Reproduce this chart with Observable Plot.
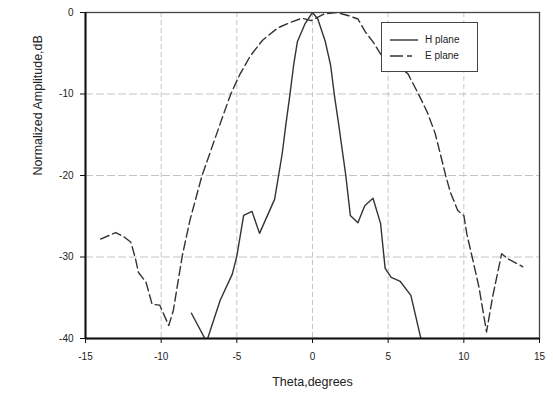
<!DOCTYPE html>
<html>
<head>
<meta charset="utf-8">
<script src="https://cdn.jsdelivr.net/npm/d3@7"></script>
<script src="https://cdn.jsdelivr.net/npm/@observablehq/plot@0.6"></script>
<style>
  html, body { margin: 0; padding: 0; background: #fff; }
  #wrap { position: relative; width: 553px; height: 395px; }
  #legend {
    position: absolute; left: 381px; top: 22px; width: 95px; height: 48px;
    background: #fff; border: 1.5px solid #444;
    font-family: "Liberation Sans", Arial, sans-serif; font-size: 10px; color: #222;
  }
  #legend .row { position: absolute; left: 8px; display: flex; align-items: center; }
  #legend svg { margin-right: 7px; }
</style>
</head>
<body>
<div id="wrap"><div id="legend"></div></div>
<script>
// H plane (solid)
const hTheta = [-8.0, -7.0, -6.1, -5.3, -5.0, -4.55, -4.0, -3.5, -2.5, -2.0, -1.75, -1.5, -1.25, -1.0, -0.5, 0, 0.35, 0.85, 1.2, 1.45, 1.72, 2.2, 2.5, 3.0, 3.45, 4.0, 4.5, 4.8, 5.2, 5.8, 6.5, 7.2];
const hAmp   = [-36.9, -40.4, -35.3, -32.1, -29.9, -24.9, -24.4, -27.1, -22.9, -17.3, -13.6, -10.2, -6.5, -3.6, -1.4, 0, -0.8, -3.6, -6.5, -10.2, -13.6, -20.0, -24.9, -25.8, -23.7, -22.8, -25.9, -31.4, -32.5, -33.0, -34.7, -40.3];
// E plane (dashed)
const eTheta = [-14.0, -13.0, -12.4, -12.0, -11.7, -11.5, -11.0, -10.6, -10.1, -9.5, -9.2, -8.6, -8.1, -7.3, -6.6, -5.9, -5.4, -4.8, -4.1, -3.3, -2.3, -1.45, -0.7, -0.1, 0.75, 1.6, 2.4, 3.0, 3.5, 4.0, 4.5, 6.3, 7.0, 7.6, 8.1, 8.4, 8.8, 9.1, 9.6, 10.0, 10.2, 10.55, 11.0, 11.5, 11.9, 12.5, 12.9, 13.9];
const eAmp   = [-27.8, -27.0, -27.6, -28.2, -30.2, -31.9, -33.1, -35.8, -35.9, -38.4, -36.6, -29.8, -25.5, -20.0, -16.3, -12.6, -10.0, -7.6, -5.3, -3.4, -1.9, -1.2, -0.7, -1.0, -0.2, 0, -0.4, -0.8, -2.4, -3.6, -5.1, -7.5, -10.0, -12.3, -14.8, -17.0, -20.0, -22.0, -24.3, -24.9, -27.2, -30.0, -33.7, -39.2, -34.9, -29.6, -30.2, -31.2];

const xTicks = [-15, -10, -5, 0, 5, 10, 15];
const yTicks = [0, -10, -20, -30, -40];
const xGrid = [-10, -5, 0, 5, 10];
const yGrid = [-10, -20, -30];
const seriesNames = ["H plane", "E plane"];

const H = hTheta.map((t, i) => ({theta: t, amp: hAmp[i]}));
const E = eTheta.map((t, i) => ({theta: t, amp: eAmp[i]}));

const chart = Plot.plot({
  width: 553, height: 395,
  marginLeft: 85, marginRight: 14, marginTop: 12, marginBottom: 57,
  style: {fontFamily: "Liberation Sans, Arial, sans-serif", fontSize: "10px", color: "#222", background: "#fff"},
  x: {domain: [-15, 15]},
  y: {domain: [-40, 0]},
  marks: [
    Plot.ruleX(xGrid, {stroke: "#c4c4c4", strokeWidth: 1, strokeDasharray: "5,3"}),
    Plot.ruleY(yGrid, {stroke: "#c4c4c4", strokeWidth: 1, strokeDasharray: "8,3"}),
    Plot.line(E, {x: "theta", y: "amp", stroke: "#333", strokeWidth: 1.4, strokeDasharray: "9,4", clip: true}),
    Plot.line(H, {x: "theta", y: "amp", stroke: "#333", strokeWidth: 1.4, clip: true}),
    Plot.frame({stroke: "#444", strokeWidth: 1.3}),
    Plot.ruleX([-15], {stroke: "#111", strokeWidth: 2}),
    Plot.ruleY([-40], {stroke: "#111", strokeWidth: 2}),
    Plot.axisX({ticks: xTicks, tickSize: 5, tickPadding: 9, tickFormat: d => String(d), label: null, stroke: "#111"}),
    Plot.axisY({ticks: yTicks, tickSize: 5, tickPadding: 7, tickFormat: d => String(d), label: null, stroke: "#111"}),
    Plot.text(["Theta,degrees"], {frameAnchor: "bottom", dy: 47, fontSize: 12.5, fill: "#222"}),
    Plot.text(["Normalized Amplitude,dB"], {frameAnchor: "left", dx: -48, rotate: -90, fontSize: 12.5, fill: "#222"})
  ]
});
document.getElementById("wrap").prepend(chart);

const legend = document.getElementById("legend");
seriesNames.forEach((name, i) => {
  const row = document.createElement("div");
  row.className = "row";
  row.style.top = (i === 0 ? 11 : 27) + "px";
  const dash = i === 0 ? "" : ' stroke-dasharray="13,4,5,20"';
  row.innerHTML = `<svg width="28" height="6"><line x1="0" y1="3" x2="28" y2="3" stroke="#333" stroke-width="1.4"${dash}/></svg><span>${name}</span>`;
  legend.appendChild(row);
});
</script>
</body>
</html>
